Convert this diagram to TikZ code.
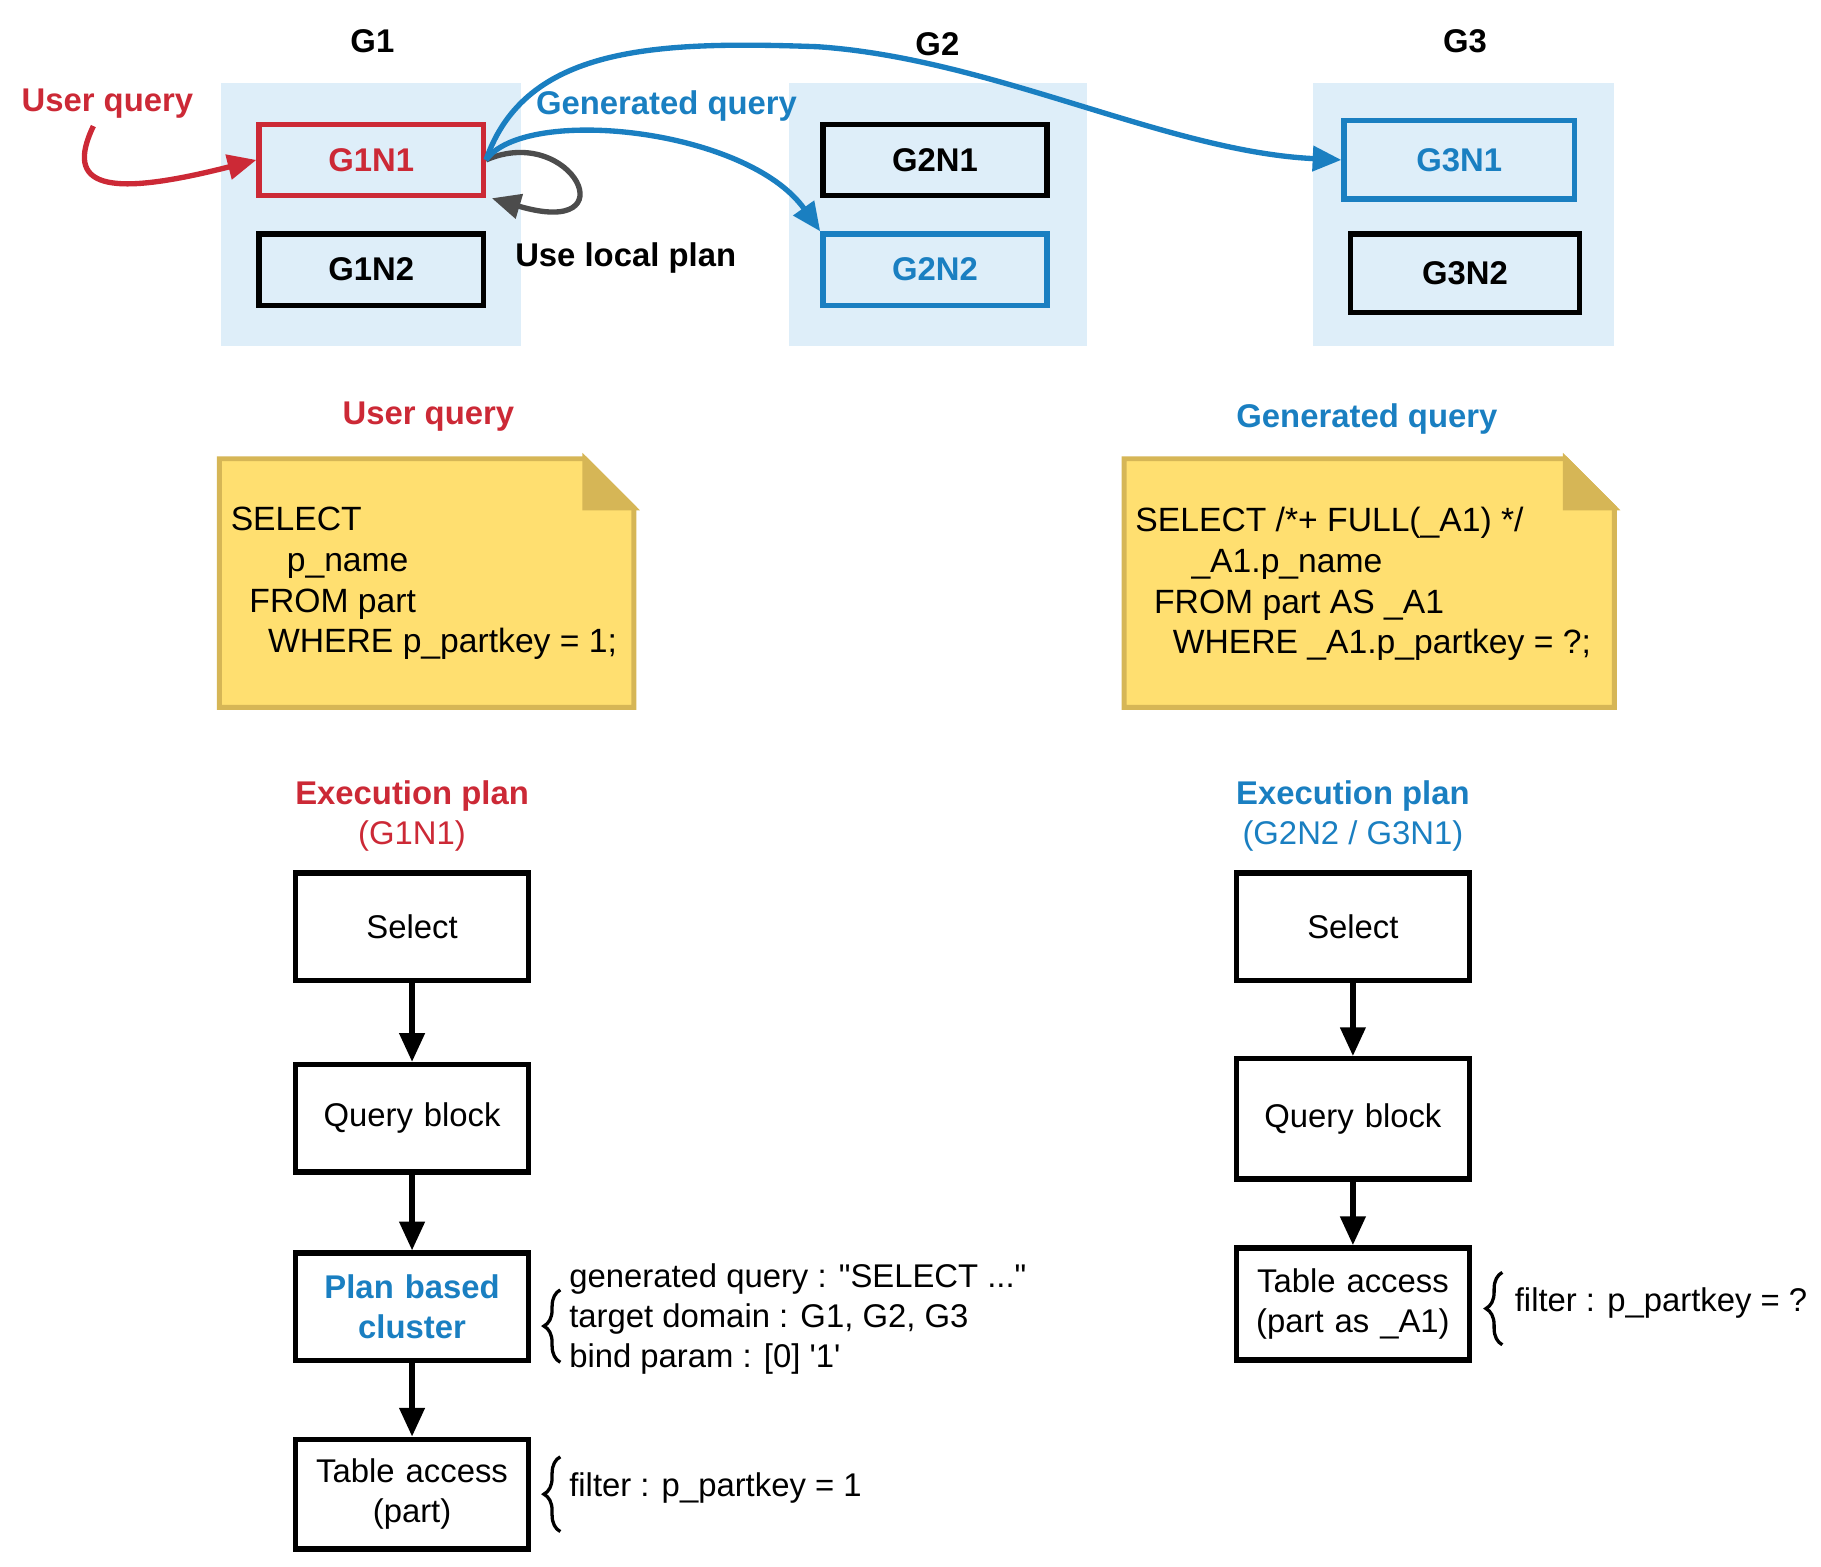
\documentclass[tikz,border=0pt]{standalone}
\usepackage{fontspec}
\setmainfont{Liberation Sans}[Ligatures=TeXOff]
\usetikzlibrary{arrows.meta,decorations.pathreplacing}
\definecolor{qred}{HTML}{CC2936}
\definecolor{qblue}{HTML}{1A7FC1}
\definecolor{grpbg}{HTML}{DEEEF9}
\definecolor{notefill}{HTML}{FFDF70}
\definecolor{noteline}{HTML}{D6B656}
\begin{document}
\begin{tikzpicture}[x={(0.01cm,0)},y={(0,-0.01cm)},font=\fontsize{8pt}{9.8pt}\selectfont]

\tikzstyle{grp} = [fill=grpbg, draw=none, minimum width=2.57cm, minimum height=2.25cm]
\tikzstyle{nd} = [rectangle, draw=black, line width=1.3pt, minimum width=1.92cm, minimum height=0.61cm, font=\fontsize{8pt}{10pt}\selectfont\bfseries]
\tikzstyle{op} = [rectangle, draw=black, line width=1.3pt, minimum width=1.98cm, minimum height=0.92cm, text width=1.76cm, align=center]
\tikzstyle{lbl} = [font=\fontsize{8pt}{10pt}\selectfont\bfseries]
\tikzstyle{arr} = [-{Triangle[length=7pt,width=6pt]}, line width=1.3pt]
\tikzstyle{brc} = [decorate, decoration={brace, amplitude=4pt}, line width=0.8pt]
\useasboundingbox (0,0) rectangle (1560,1342);

% groups
\node (g1) [grp] at (317.5,183.5) {};
\node (g2) [grp, minimum width=2.55cm] at (803.5,183.5) {};
\node (g3) [grp, minimum width=2.58cm] at (1254,183.5) {};
\node (g1t) [lbl] at (319,35) {G1};
\node (g2t) [lbl] at (803,38) {G2};
\node (g3t) [lbl] at (1255,35) {G3};

\node (g1n1) [nd, draw=qred, text=qred] at (318,137) {G1N1};
\node (g1n2) [nd] at (318,231) {G1N2};
\node (g2n1) [nd] at (801,137) {G2N1};
\node (g2n2) [nd, draw=qblue, text=qblue] at (801,231) {G2N2};
\node (g3n1) [nd, draw=qblue, text=qblue, minimum width=1.97cm, minimum height=0.67cm] at (1250,137) {G3N1};
\node (g3n2) [nd, minimum width=1.96cm, minimum height=0.67cm] at (1255,234) {G3N2};

% routing
\node (uq) [lbl, text=qred] at (92,89) {User query};
\node (gq) [lbl, text=qblue] at (571,91) {Generated query};
\node (lp) [lbl] at (536,221) {Use local plan};
\coordinate (uqs) at (80,108);
\draw[arr, qred] (uqs) .. controls (55,160) and (90,170) .. (g1n1.west);
\draw[arr, black!70] (g1n1.east) .. controls (490,105) and (540,205) .. ([xshift=0.05cm]g1n1.south east);
\draw[arr, qblue] (g1n1.east) .. controls (450,40) and (560,35) .. (700,40) .. controls (850,50) and (1000,130) .. (g3n1.west);
\draw[arr, qblue] (g1n1.east) .. controls (450,90) and (640,110) .. (g2n2.north west);

% notes
\node (uqt) [lbl, text=qred] at (367,357) {User query};
\node (gqt) [lbl, text=qblue] at (1171,359) {Generated query};
\draw[fill=notefill, draw=noteline, line width=1.2pt] (188,393) -- (501,393) -- (543,435) -- (543,606) -- (188,606) -- cycle;
\draw[fill=noteline, draw=noteline, line width=1.2pt] (501,393) -- (501,435) -- (543,435) -- cycle;
\draw[fill=notefill, draw=noteline, line width=1.2pt] (963,393) -- (1341,393) -- (1383,435) -- (1383,606) -- (963,606) -- cycle;
\draw[fill=noteline, draw=noteline, line width=1.2pt] (1341,393) -- (1341,435) -- (1383,435) -- cycle;
\node (uqsql) [anchor=north west, align=left, inner sep=0pt, font=\fontsize{8.2pt}{9.9pt}\selectfont] at (197,434) {SELECT\\\hspace*{0.48cm}p\_name\\\hspace*{0.16cm}FROM part\\\hspace*{0.32cm}WHERE p\_partkey = 1;};
\node (gqsql) [anchor=north west, align=left, inner sep=0pt, font=\fontsize{8.2pt}{9.9pt}\selectfont] at (972,434) {SELECT /*+ FULL(\_A1) */\\\hspace*{0.48cm}\_A1.p\_name\\\hspace*{0.16cm}FROM part AS \_A1\\\hspace*{0.32cm}WHERE \_A1.p\_partkey = ?;};

% plans
\node (ep1) [align=center, text=qred] at (353,699) {\textbf{Execution plan}\\(G1N1)};
\node (ep2) [align=center, text=qblue] at (1159,699) {\textbf{Execution plan}\\(G2N2 / G3N1)};
\node (sel1) [op] at (353,794) {Select};
\node (qb1) [op] at (353,958) {Query block};
\node (pbc) [op, text=qblue, font=\fontsize{8pt}{9.8pt}\selectfont\bfseries] at (353,1119.5) {Plan based cluster};
\node (ta1) [op, minimum height=0.94cm] at (353,1280) {Table access (part)};
\node (sel2) [op] at (1159,794) {Select};
\node (qb2) [op, minimum height=1.03cm] at (1159,958.5) {Query block};
\node (ta2) [op, minimum height=0.96cm] at (1159,1117) {Table access (part as \_A1)};
\draw[arr] (sel1) -- (qb1);
\draw[arr] (qb1) -- (pbc);
\draw[arr] (pbc) -- (ta1);
\draw[arr] (sel2) -- (qb2);
\draw[arr] (qb2) -- (ta2);

% annotations
\coordinate (b1a) at (480,1167);
\coordinate (b1b) at (480,1105);
\draw[brc] (b1a) -- (b1b);
\node (pbcinfo) [anchor=west, align=left, inner sep=0pt, font=\fontsize{8pt}{9.7pt}\selectfont] at (487,1130) {generated query : \char34 SELECT ...\char34\\target domain : G1, G2, G3\\bind param : [0] \char39 1\char39};
\coordinate (b2a) at (480,1312);
\coordinate (b2b) at (480,1248);
\draw[brc] (b2a) -- (b2b);
\node (ta1info) [anchor=west, inner sep=0pt] at (487,1275) {filter : p\_partkey = 1};
\coordinate (b3a) at (1287,1152);
\coordinate (b3b) at (1287,1090);
\draw[brc] (b3a) -- (b3b);
\node (ta2info) [anchor=west, inner sep=0pt] at (1297,1116) {filter : p\_partkey = ?};
\end{tikzpicture}
\end{document}
